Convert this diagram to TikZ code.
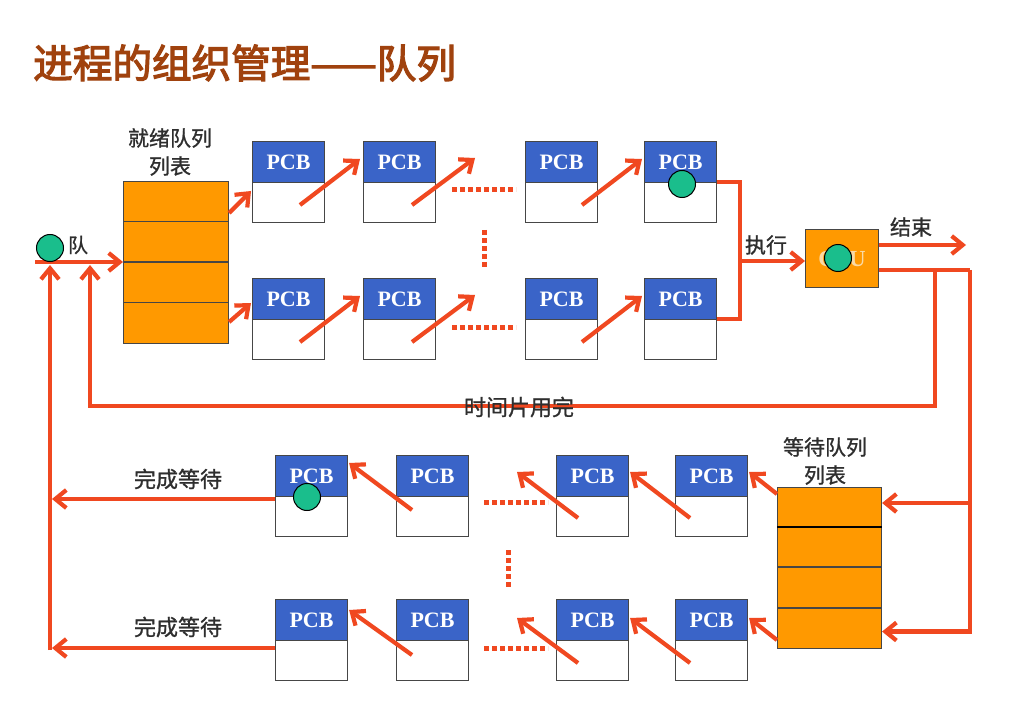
\documentclass[tikz,border=0pt]{standalone}
\usepackage{fontspec}
\setmainfont{Liberation Serif}
\newfontfamily\cjk[FakeBold=1]{Noto Sans CJK SC}
\newfontfamily\titlefont[FakeBold=3]{Noto Sans CJK SC}
\usetikzlibrary{arrows.meta,calc}
\definecolor{rl}{RGB}{240,72,32}
\definecolor{pblue}{RGB}{58,100,200}
\definecolor{qorange}{RGB}{255,153,0}
\definecolor{dotgreen}{RGB}{26,190,140}
\definecolor{titlec}{RGB}{160,66,14}
\definecolor{bord}{RGB}{70,70,70}
\definecolor{cputext}{RGB}{250,218,165}
\begin{document}
\begin{tikzpicture}[x=1pt,y=-1pt,
  pcbbox/.style={draw=bord, line width=1.1pt, fill=white, minimum width=72pt, minimum height=81pt, inner sep=0pt, anchor=north west},
  pcbhead/.style={draw=bord, line width=1.1pt, fill=pblue, minimum width=72pt, minimum height=41pt, inner sep=0pt, anchor=north, text=white, font=\bfseries\fontsize{22}{22}\selectfont},
  queue/.style={draw=bord, fill=qorange, line width=1.1pt, minimum width=105pt, minimum height=162pt, anchor=north west, inner sep=0pt},
  rline/.style={draw=rl, line width=4.2pt, line join=miter},
  arr/.style={rline, -{Straight Barb[length=11pt,width=18pt]}},
  dots/.style={draw=rl, line width=5pt, dash pattern=on 5pt off 3pt},
  lbl/.style={font=\cjk\fontsize{21}{28}\selectfont, text=black!82, inner sep=0pt, align=center},
  ball/.style={circle, draw=black, line width=1pt, fill=dotgreen, minimum size=27pt, inner sep=0pt},
  divider/.style={draw=bord, line width=1.1pt}]
\useasboundingbox (0,0) rectangle (1030,719);
\fill[white] (0,0) rectangle (1030,719);

% title
\node[anchor=west, inner sep=0pt, text=titlec, font=\titlefont\fontsize{39.6}{40}\selectfont] (title) at (33,63) {进程的组织管理——队列};

% queues
\node[queue] (rq) at (123,181) {};
\foreach \d in {40.5,81,121.5}
  \draw[divider] ($(rq.north west)+(0,\d)$) -- ($(rq.north east)+(0,\d)$);
\node[queue, minimum width=104pt, minimum height=161pt] (wq) at (777,487) {};
\draw[draw=black, line width=2pt] ($(wq.north west)+(0,40)$) -- ($(wq.north east)+(0,40)$);
\foreach \d in {80,121}
  \draw[divider] ($(wq.north west)+(0,\d)$) -- ($(wq.north east)+(0,\d)$);

% PCB boxes
\foreach \n/\x/\y in {t1/252/141,t2/363/141,t3/525/141,t4/644/141,
                      t5/252/278,t6/363/278,t7/525/278,t8/644/278,
                      b1/275/455,b2/396/455,b3/556/455,b4/675/455,
                      b5/275/599,b6/396/599,b7/556/599,b8/675/599}{
  \node[pcbbox] (\n) at (\x,\y) {};
  \node[pcbhead] (\n h) at (\n.north) {PCB};
}

% CPU
\node[draw=bord, line width=1.1pt, fill=qorange, minimum width=73pt, minimum height=58pt, inner sep=0pt, anchor=north west] (cpu) at (805,229) {};
\node[text=cputext, font=\bfseries\fontsize{23}{23}\selectfont, inner sep=0pt] (cpul) at (cpu.center) {CPU};

% labels
\node[lbl, font=\cjk\fontsize{20}{20}\selectfont] (lq) at (78,245) {队};
\node[lbl] (lrq) at (170,152) {就绪队列\\列表};
\node[lbl] (lwq) at (825,461) {等待队列\\列表};
\node[lbl] (lex) at (766,245) {执行};
\node[lbl] (lend) at (911,227) {结束};
\node[lbl, font=\cjk\fontsize{22}{22}\selectfont] (ld1) at (178,479) {完成等待};
\node[lbl, font=\cjk\fontsize{22}{22}\selectfont] (ld2) at (178,627) {完成等待};

% top diagonal arrows
\draw[arr] ($(rq.north east)+(0,32)$) -- ($(t1.north west)+(-1,50)$);
\draw[arr] ($(t1.north west)+(48,64)$) -- ($(t2.north west)+(-3,18)$);
\draw[arr] ($(t2.north west)+(49,64)$) -- ($(t2.north west)+(112,17)$);
\draw[arr] ($(t3.north west)+(57,64)$) -- ($(t4.north west)+(-2,18)$);
\draw[arr] ($(rq.north east)+(0,141)$) -- ($(t5.north west)+(-1,25)$);
\draw[arr] ($(t5.north west)+(48,64)$) -- ($(t6.north west)+(-3,18)$);
\draw[arr] ($(t6.north west)+(49,64)$) -- ($(t6.north west)+(112,17)$);
\draw[arr] ($(t7.north west)+(57,64)$) -- ($(t8.north west)+(-2,18)$);

% bottom diagonal arrows
\draw[arr] ($(wq.north west)+(0,7)$) -- ($(b4.north east)+(1,17)$);
\draw[arr] ($(b4.north west)+(15,63)$) -- ($(b3.north east)+(1,17)$);
\draw[arr] ($(b3.north west)+(22,63)$) -- ($(b3.north west)+(-39,17)$);
\draw[arr] ($(b2.north west)+(16,55)$) -- ($(b1.north east)+(1,8)$);
\draw[arr] ($(wq.north west)+(0,153)$) -- ($(b8.north east)+(1,19)$);
\draw[arr] ($(b8.north west)+(15,64)$) -- ($(b7.north east)+(1,19)$);
\draw[arr] ($(b7.north west)+(22,64)$) -- ($(b7.north west)+(-39,19)$);
\draw[arr] ($(b6.north west)+(16,56)$) -- ($(b5.north east)+(1,11)$);

% dotted ellipses
\draw[dots] (452,190) -- (516,190);
\draw[dots] (452,327) -- (516,327);
\draw[dots] (484,230) -- (484,269);
\draw[dots] (484,502) -- (548,502);
\draw[dots] (484,648) -- (548,648);
\draw[dots] (508,550) -- (508,589);

% entry into ready queue
\coordinate (in0) at (35,262);
\draw[arr] (in0) -- (in0 -| rq.west);
% completion returns
\coordinate (lv1) at (50,650);
\coordinate (lv1t) at (50,265);
\draw[arr] (lv1) -- (lv1t);
\coordinate (c1) at (52,499);
\coordinate (c2) at (52,648);
\draw[arr] (b1.west |- c1) -- (c1);
\draw[arr] (b5.west |- c2) -- (c2);

% merge to CPU
\coordinate (mj) at (740,261);
\draw[rline] (t4.east) -| (mj) |- (t8.east);
\draw[arr] (mj) -- (mj -| cpu.west);

% end
\coordinate (endc) at (966,245);
\draw[arr] (endc -| cpu.east) -- (endc);

% CPU to waiting queue and time slice loop
\coordinate (rj) at (970,270);
\coordinate (tj) at (935,270);
\coordinate (lb) at (90,406);
\coordinate (lbt) at (90,265);
\draw[rline] (rj -| cpu.east) -- (rj);
\draw[arr] (rj) |- ($(wq.east)+(0,631-567.5)$);
\coordinate (w1) at (970,503);
\draw[arr] (w1) -- (w1 -| wq.east);
\draw[arr] (tj) |- (lb) -- (lbt);
\node[lbl, font=\cjk\fontsize{22}{22}\selectfont] (lts) at (519,407) {时间片用完};

% tokens
\node[ball] (g1) at (50,248) {};
\node[ball] (g2) at (682,184) {};
\node[ball] (g3) at (838,258) {};
\node[ball] (g4) at (307,497) {};
\end{tikzpicture}
\end{document}
